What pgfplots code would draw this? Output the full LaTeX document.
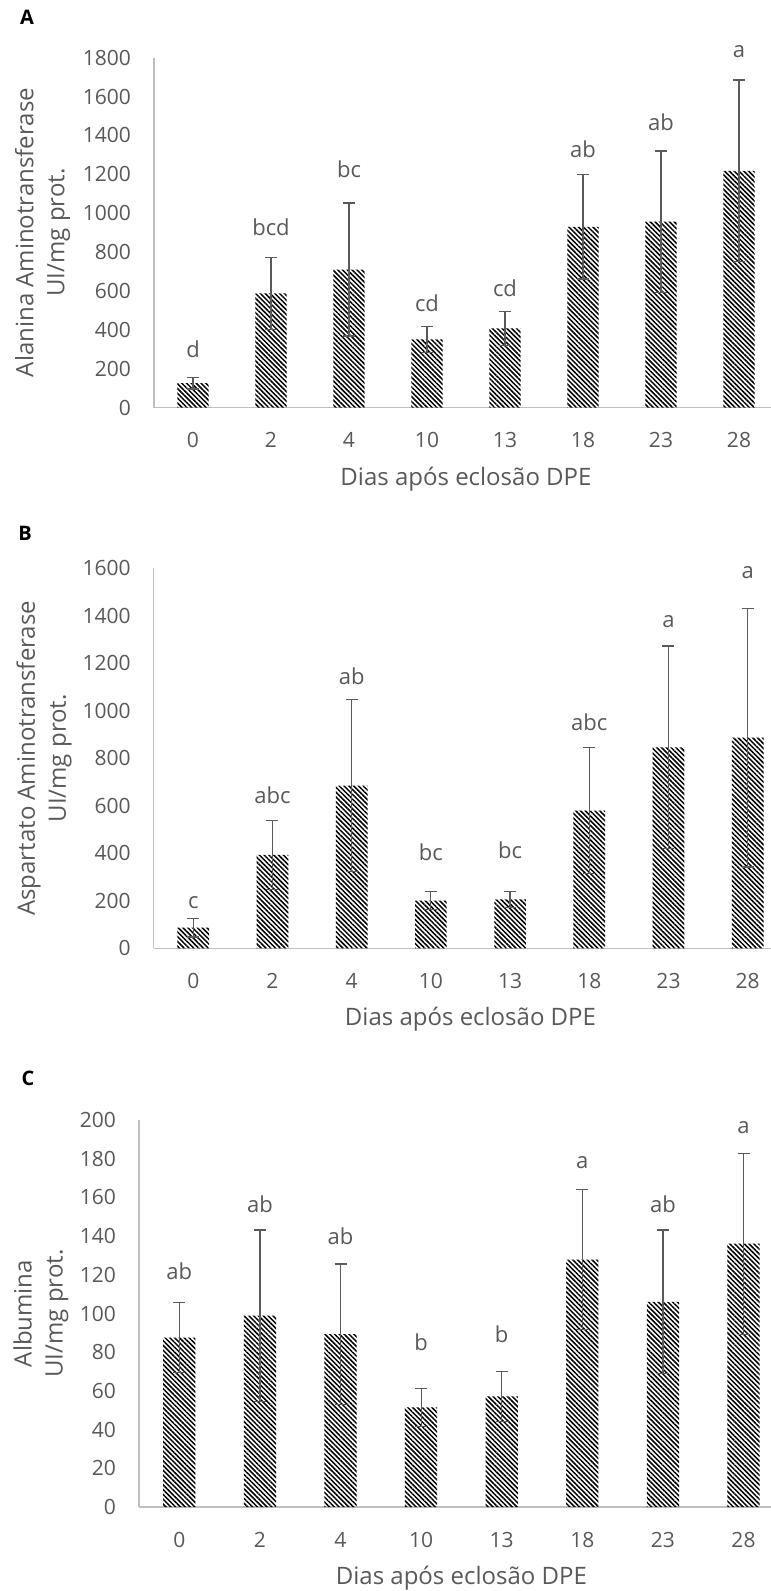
\documentclass[border=0pt]{standalone}
\usepackage{pgfplots}
\pgfplotsset{compat=1.18}
\usepackage{pgfplotstable}
\usepackage{fontspec}
\setmainfont{Open Sans}
\usetikzlibrary{patterns.meta}
\definecolor{txtgray}{HTML}{595959}
\definecolor{axgray}{HTML}{BFBFBF}
\definecolor{errgray}{HTML}{5A5A5A}

% x  mean  sd  labely  label
\pgfplotstableread{
x m sd ly lab
0 125 30 300 d
1 587 185 930 bcd
2 710 342 1225 bc
3 350 65 539 cd
4 407 89 613 cd
5 930 269 1330 ab
6 956 364 1470 ab
7 1218 467 1831 a
}\dataA

\pgfplotstableread{
x m sd ly lab
0 87 39 192 c
1 393 145 643 abc
2 685 361 1144 ab
3 201 38 403 bc
4 206 33 414 bc
5 580 265 950 abc
6 846 427 1375 a
7 887 545 1582 a
}\dataB

\pgfplotstableread{
x m sd ly lab
0 87.5 18 121.6 ab
1 98.9 44.3 156.6 ab
2 89.3 36.3 139.7 ab
3 51.5 9.7 85.3 b
4 57.2 13 89.3 b
5 127.9 36.3 177.9 a
6 106 37.2 156.6 ab
7 136.1 46.8 196 a
}\dataC

\pgfplotsset{
  panel/.style={
    scale only axis, anchor=south west,
    xmin=-0.5, xmax=7.5, ymin=0, clip=false,
    axis x line*=bottom, axis y line*=left,
    axis line style={draw=axgray, line width=0.65pt},
    major tick length=0pt,
    xtick={0,...,7}, xticklabels={0,2,4,10,13,18,23,28},
    ticklabel style={font=\fontsize{10.5}{12}\selectfont, text=txtgray},
    xticklabel style={yshift=-9pt},
    yticklabel style={xshift=-8pt},
    /pgf/number format/assume math mode=true,
    /pgf/number format/1000 sep={},
    xlabel={Dias após eclosão DPE},
    xlabel style={at={(axis description cs:0.5,0)}, anchor=base, yshift=-38.75pt,
      font=\fontsize{12}{14}\selectfont, text=txtgray},
    ylabel style={align=center, anchor=center,
      font=\fontsize{12}{15.5}\selectfont, text=txtgray},
  },
  barsty/.style={ybar, bar width=0.4, bar shift=0pt, draw=none,
    pattern={Lines[angle=-45,distance=1.7pt,line width=0.75pt]}, pattern color=black,
    error bars/.cd, y dir=both, y explicit,
    error bar style={draw=errgray, line width=0.6pt},
    error mark options={rotate=90, draw=errgray, line width=0.6pt, mark size=3pt}},
  labsty/.style={only marks, mark=*, mark size=0pt, mark options={draw=none, fill=none},
    nodes near coords, point meta=explicit symbolic,
    every node near coord/.append style={anchor=center, font=\fontsize{11}{13}\selectfont, text=txtgray}},
}

\begin{document}
\begin{tikzpicture}
% Panel A
\begin{axis}[panel, at={(77pt,-203.75pt)}, width=312pt, height=174.9pt,
  ymax=1800, ytick distance=200,
  ylabel={Alanina Aminotransferase\\UI/mg prot.},
  ylabel style={at={(axis description cs:-0.1787,0.5)}}]
\addplot[barsty] table[x=x, y=m, y error=sd]{\dataA};
\addplot[labsty] table[x=x, y=ly, meta=lab]{\dataA};
\end{axis}
% Panel B
\begin{axis}[panel, at={(76.85pt,-474.15pt)}, width=316.8pt, height=190pt,
  ymax=1600, ytick distance=200,
  ylabel={Aspartato Aminotransferase\\UI/mg prot.},
  ylabel style={at={(axis description cs:-0.1731,0.5)}}]
\addplot[barsty] table[x=x, y=m, y error=sd]{\dataB};
\addplot[labsty] table[x=x, y=ly, meta=lab]{\dataB};
\end{axis}
% Panel C
\begin{axis}[panel, at={(69.5pt,-753.5pt)}, width=322.4pt, height=193.5pt,
  ymax=200, ytick distance=20,
  ylabel={Albumina\\UI/mg prot.},
  ylabel style={at={(axis description cs:-0.152,0.5)}}]
\addplot[barsty] table[x=x, y=m, y error=sd]{\dataC};
\addplot[labsty] table[x=x, y=ly, meta=lab]{\dataC};
\end{axis}
\node[font=\fontsize{10}{12}\selectfont\bfseries] at (13.5pt,-8.5pt) {A};
\node[font=\fontsize{10}{12}\selectfont\bfseries] at (12.5pt,-266.5pt) {B};
\node[font=\fontsize{10}{12}\selectfont\bfseries] at (14pt,-539.3pt) {C};
\pgfresetboundingbox
\path[use as bounding box] (0,0) rectangle (385.5pt,-795.5pt);
\end{tikzpicture}
\end{document}
